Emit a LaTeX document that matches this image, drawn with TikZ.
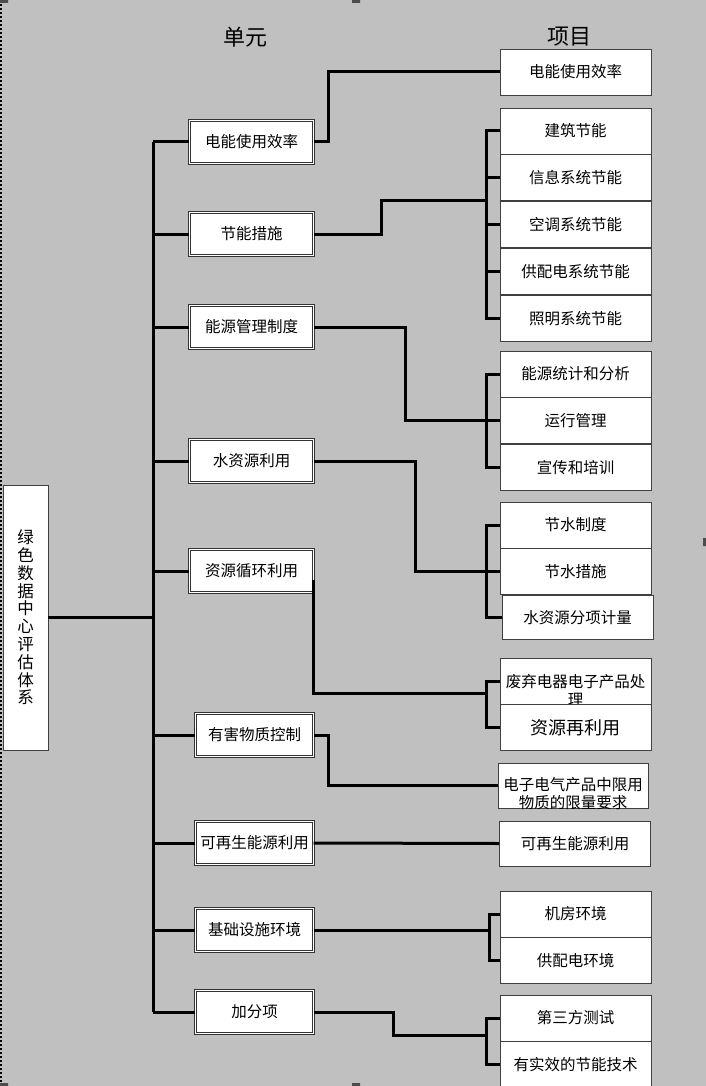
\documentclass[tikz,border=0pt]{standalone}
\usepackage{fontspec}
\setmainfont{Noto Sans CJK SC}
\usetikzlibrary{positioning}
\definecolor{bggray}{RGB}{192,192,192}

\begin{document}
\begin{tikzpicture}[x=1pt, y=-1pt, font=\fontsize{15.5}{18}\selectfont,
	unit/.style = {draw=black!80, double=white, double distance=1.4pt, fill=white, minimum width=124pt, minimum height=43pt, inner sep=1pt},
	item/.style = {draw=black!75, fill=white, line width=0.8pt, minimum width=151pt, minimum height=46pt, inner sep=1pt},
	link/.style = {line width=3pt, black}]
	\fill[bggray] (0,0) rectangle (706,1086);
	\useasboundingbox (0,0) rectangle (706,1086);
	\draw[line width=1.2pt, dash pattern=on 2pt off 2pt] (1,0) -- (1,1086);
	\fill[black!70] (0,0) rectangle (8,3) (352,0) rectangle (360,3) (0,1083) rectangle (8,1086) (352,1083) rectangle (360,1086) (3,538) rectangle (10,546) (703,538) rectangle (706,546);
	% titles
	\node[font=\fontsize{22}{24}\selectfont] (tunit) at (245,37) {单元};
	\node[font=\fontsize{22}{24}\selectfont] (titem) at (569,37) {项目};
	% root
	\node[draw=black!75, fill=white, line width=0.8pt, minimum width=45pt, minimum height=265pt, align=center, inner sep=0pt, font=\fontsize{16.5}{17.8}\selectfont] (root) at (25.5,617.5) {绿\\色\\数\\据\\中\\心\\评\\估\\体\\系};
	% units
	\node[unit] (u1) at (251.5,142) {电能使用效率};
	\node[unit] (u2) at (251.5,234) {节能措施};
	\node[unit] (u3) at (251.5,327) {能源管理制度};
	\node[unit] (u4) at (251.5,461) {水资源利用};
	\node[unit] (u5) at (251.5,571) {资源循环利用};
	\node[unit, minimum width=118pt] (u6) at (254.5,735) {有害物质控制};
	\node[unit, minimum width=118pt] (u7) at (254.5,843) {可再生能源利用};
	\node[unit, minimum width=118pt] (u8) at (254.5,930) {基础设施环境};
	\node[unit, minimum width=118pt] (u9) at (254.5,1012) {加分项};
	% items
	\node[item] (i1) at (575.5,72) {电能使用效率};
	\node[item] (i21) at (575.5,131) {建筑节能};
	\node[item] (i22) [below=0pt of i21] {信息系统节能};
	\node[item] (i23) [below=0pt of i22] {空调系统节能};
	\node[item] (i24) [below=0pt of i23] {供配电系统节能};
	\node[item] (i25) [below=0pt of i24] {照明系统节能};
	\node[item] (i31) at (575.5,374) {能源统计和分析};
	\node[item] (i32) [below=0pt of i31] {运行管理};
	\node[item] (i33) [below=0pt of i32] {宣传和培训};
	\node[item] (i41) at (575.5,525) {节水制度};
	\node[item] (i42) [below=0pt of i41] {节水措施};
	\node[item, minimum height=44pt] (i43) [below=0pt of i42, xshift=2pt] {水资源分项计量};
	\node[item, label={[align=center, yshift=-9pt]center:废弃电器电子产品处\\理}] (i51) at (575.5,681) {};
	\node[item, font=\fontsize{18}{20}\selectfont] (i52) [below=0pt of i51] {资源再利用};
	\node[item, minimum width=150pt, minimum height=45pt, label={[align=center, yshift=-8pt]center:电子电气产品中限用\\物质的限量要求}] (i6) at (573,785.5) {};
	\node[item, minimum height=45pt] (i7) at (575,843.5) {可再生能源利用};
	\node[item] (i81) at (575.5,914) {机房环境};
	\node[item] (i82) [below=0pt of i81] {供配电环境};
	\node[item] (i91) at (575.5,1018) {第三方测试};
	\node[item] (i92) [below=0pt of i91] {有实效的节能技术};
	% trunk
	\coordinate (tk) at (153,0);
	\draw[link] (u1.west -| tk) -- (u9.west -| tk);
	\foreach \u in {u1,u2,u3,u4,u5,u6,u7,u8,u9}
		\draw[link] (\u.west) -- (\u.west -| tk);
	\draw[link] (root.east) -- (root.east -| tk);
	% unit to items
	\coordinate (b2) at (487,200);
	\coordinate (b5) at (487,693);
	\coordinate (b8) at (490,930);
	\coordinate (b9) at (487,1035);
	\draw[link] (u1.east) -- ++(15,0) |- (i1.west);
	\draw[link] (u2.east) -- ++(68,0) |- (b2);
	\draw[link] (u3.east) -- ++(92,0) |- (i32.west);
	\draw[link] (u4.east) -- ++(102,0) |- (i42.west);
	\draw[link] ([yshift=-9pt]u5.east) |- (b5);
	\draw[link] (u6.east) -- ++(15,0) |- (i6.west);
	\draw[link] (u7.east) -- (i7.west);
	\draw[link] (u8.east) -- (b8);
	\draw[link] (u9.east) -- ++(80,0) |- (b9);
	% brackets
	\draw[link] (i21.west) -- ++(-13,0) |- (i25.west);
	\foreach \n in {22,23,24}
		\draw[link] (i\n.west) -- ++(-13,0);
	\draw[link] (i31.west) -- ++(-13,0) |- (i33.west);
	\draw[link] (i41.west) -- ++(-13,0) |- (i43.west);
	\draw[link] (i51.west) -- ++(-13,0) |- (i52.west);
	\draw[link] (i81.west) -- ++(-10,0) |- (i82.west);
	\draw[link] (i91.west) -- ++(-13,0) |- (i92.west);
\end{tikzpicture}
\end{document}
